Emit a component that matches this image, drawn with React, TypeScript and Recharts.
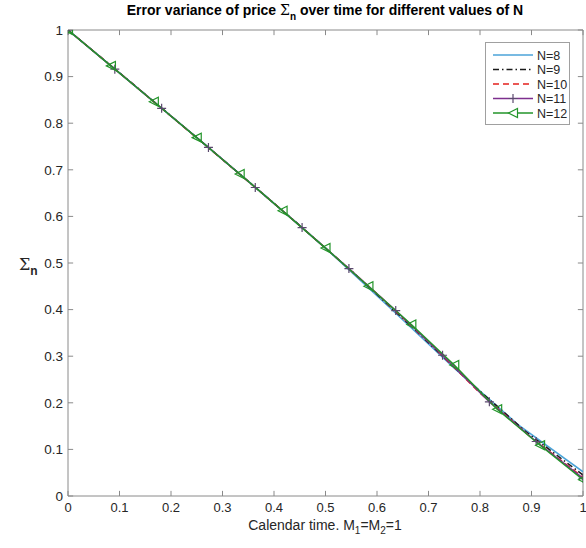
import React from 'react';
import { LineChart, Line, XAxis, YAxis, ReferenceLine } from 'recharts';

// ---- data ----
const axisTicks = [0, 0.1, 0.2, 0.3, 0.4, 0.5, 0.6, 0.7, 0.8, 0.9, 1];
const axisTickLabels = ['0', '0.1', '0.2', '0.3', '0.4', '0.5', '0.6', '0.7', '0.8', '0.9', '1'];

const sigmaN8 = [1, 0.885, 0.769, 0.652, 0.532, 0.404, 0.274, 0.152, 0.052];
const sigmaN9 = [1, 0.898, 0.795, 0.691, 0.586, 0.478, 0.364, 0.247, 0.138, 0.045];
const sigmaN10 = [1, 0.908, 0.815, 0.722, 0.628, 0.532, 0.434, 0.331, 0.221, 0.125, 0.04];
const sigmaN11 = [1, 0.916, 0.832, 0.748, 0.662, 0.576, 0.488, 0.398, 0.302, 0.202, 0.117, 0.038];
const sigmaN12 = [1, 0.923, 0.846, 0.769, 0.691, 0.612, 0.532, 0.45, 0.368, 0.281, 0.186, 0.109, 0.035];

const seriesNames = ['N=8', 'N=9', 'N=10', 'N=11', 'N=12'];

// sample grid: step k/N on calendar time [0, 1]
const toPoints = (vals: number[]) => vals.map((y, i) => ({ x: i / (vals.length - 1), y }));

const seriesData = [sigmaN8, sigmaN9, sigmaN10, sigmaN11, sigmaN12].map(toPoints);

const seriesStyle = [
  { color: '#4ba3d8', dash: undefined as string | undefined, marker: 'none' },
  { color: '#1a1a1a', dash: '6 3 1.5 3', marker: 'none' },
  { color: '#e4211c', dash: '6 4', marker: 'none' },
  { color: '#7e2f8e', dash: undefined, marker: 'plus' },
  { color: '#23952a', dash: undefined, marker: 'tri' },
];

const AXIS = '#8a8a8a';
const TEXT = '#262626';
const FONT = "'Liberation Sans', Arial, sans-serif";

const PlusDot = (props: any) => {
  const { cx, cy, index } = props;
  if (cx == null || cy == null) return <g key={'p' + index} />;
  const s = 4.5;
  return (
    <path
      key={'p' + index}
      d={`M${cx - s},${cy}L${cx + s},${cy}M${cx},${cy - s}L${cx},${cy + s}`}
      stroke="#5b4a6e"
      strokeWidth={1.2}
      fill="none"
    />
  );
};

const TriDot = (props: any) => {
  const { cx, cy, index } = props;
  if (cx == null || cy == null) return <g key={'t' + index} />;
  const s = 4.5;
  return (
    <path
      key={'t' + index}
      d={`M${cx - s},${cy}L${cx + s},${cy - s}L${cx + s},${cy + s}Z`}
      stroke="#23952a"
      strokeWidth={1.2}
      fill="none"
    />
  );
};

const LegendBox = () => (
  <div
    style={{
      position: 'absolute',
      left: 485,
      top: 42,
      width: 83,
      height: 81,
      border: '1px solid #a0a0a0',
      background: '#fff',
    }}
  >
    <svg width={83} height={81} style={{ display: 'block' }}>
      {seriesNames.map((name, i) => {
        const y = 12 + i * 14.5;
        const st = seriesStyle[i];
        return (
          <g key={name}>
            <line x1={7} x2={47} y1={y} y2={y} stroke={st.color} strokeWidth={1.5} strokeDasharray={st.dash} />
            {st.marker === 'plus' && (
              <path d={`M${22.5},${y}L${31.5},${y}M27,${y - 4.5}L27,${y + 4.5}`} stroke="#5b4a6e" strokeWidth={1.2} />
            )}
            {st.marker === 'tri' && (
              <path d={`M${22.5},${y}L${31.5},${y - 4.5}L${31.5},${y + 4.5}Z`} stroke="#23952a" strokeWidth={1.2} fill="#fff" />
            )}
            <text x={51} y={y + 4.5} fontSize={12.5} fill={TEXT} fontFamily={FONT}>
              {name}
            </text>
          </g>
        );
      })}
    </svg>
  </div>
);

export default function App() {
  const fmt = (v: number) => {
    const idx = axisTicks.indexOf(v);
    return idx >= 0 ? axisTickLabels[idx] : String(v);
  };
  const xTickStyle = { fill: TEXT, fontSize: 13, fontFamily: FONT };
  const yTickStyle = { fill: TEXT, fontSize: 13.5, fontFamily: FONT };
  return (
    <div style={{ position: 'absolute', left: 0, top: 0, width: 586, height: 548, background: '#fff' }}>
      <LineChart
        width={586}
        height={548}
        margin={{ top: 30, right: 3, bottom: 22, left: 28 }}
        style={{ fontFamily: FONT }}
      >
        <XAxis
          dataKey="x"
          type="number"
          domain={[0, 1]}
          ticks={axisTicks}
          tickFormatter={fmt}
          tickLine={false}
          tickSize={0}
          tickMargin={7}
          height={30}
          stroke={AXIS}
          tick={xTickStyle}
          allowDataOverflow
          interval={0}
        />
        <YAxis
          type="number"
          domain={[0, 1]}
          ticks={axisTicks}
          tickFormatter={fmt}
          tickLine={false}
          tickSize={0}
          tickMargin={5}
          width={40}
          stroke={AXIS}
          tick={yTickStyle}
          allowDataOverflow
          interval={0}
        />
        <ReferenceLine y={1} stroke={AXIS} ifOverflow="visible" />
        <ReferenceLine x={1} stroke={AXIS} ifOverflow="visible" />
        {axisTicks.map((t) => (
          <ReferenceLine key={'bx' + t} segment={[{ x: t, y: 0 }, { x: t, y: 0.011 }]} stroke={AXIS} ifOverflow="visible" />
        ))}
        {axisTicks.map((t) => (
          <ReferenceLine key={'tx' + t} segment={[{ x: t, y: 1 }, { x: t, y: 0.989 }]} stroke={AXIS} ifOverflow="visible" />
        ))}
        {axisTicks.map((t) => (
          <ReferenceLine key={'ly' + t} segment={[{ x: 0, y: t }, { x: 0.01, y: t }]} stroke={AXIS} ifOverflow="visible" />
        ))}
        {axisTicks.map((t) => (
          <ReferenceLine key={'ry' + t} segment={[{ x: 1, y: t }, { x: 0.99, y: t }]} stroke={AXIS} ifOverflow="visible" />
        ))}
        {seriesData.map((d, i) => {
          const st = seriesStyle[i];
          return (
            <Line
              key={seriesNames[i]}
              name={seriesNames[i]}
              data={d}
              dataKey="y"
              type="linear"
              stroke={st.color}
              strokeWidth={1.5}
              strokeDasharray={st.dash}
              dot={st.marker === 'plus' ? PlusDot : st.marker === 'tri' ? TriDot : false}
              activeDot={false}
              isAnimationActive={false}
            />
          );
        })}
      </LineChart>
      <LegendBox />
      <svg
        width={586}
        height={548}
        style={{ position: 'absolute', left: 0, top: 0, pointerEvents: 'none' }}
        fontFamily={FONT}
      >
        <text x={325} y={15} textAnchor="middle" fontSize={14} fontWeight="bold" fill="#000">
          Error variance of price{' '}
          <tspan fontFamily="'DejaVu Serif', serif" fontWeight="normal">Σ</tspan>
          <tspan dy={5} fontSize={10}>n</tspan>
          <tspan dy={-5}> over time for different values of N</tspan>
        </text>
        <text x={19} y={270} fontSize={16} fill={TEXT}>
          <tspan fontFamily="'DejaVu Serif', serif">Σ</tspan>
          <tspan dy={5} fontSize={12} fontWeight="bold">n</tspan>
        </text>
        <text x={325} y={530} textAnchor="middle" fontSize={14} fill={TEXT}>
          Calendar time. M<tspan dy={4} fontSize={10}>1</tspan>
          <tspan dy={-4}>=M</tspan>
          <tspan dy={4} fontSize={10}>2</tspan>
          <tspan dy={-4}>=1</tspan>
        </text>
      </svg>
    </div>
  );
}
